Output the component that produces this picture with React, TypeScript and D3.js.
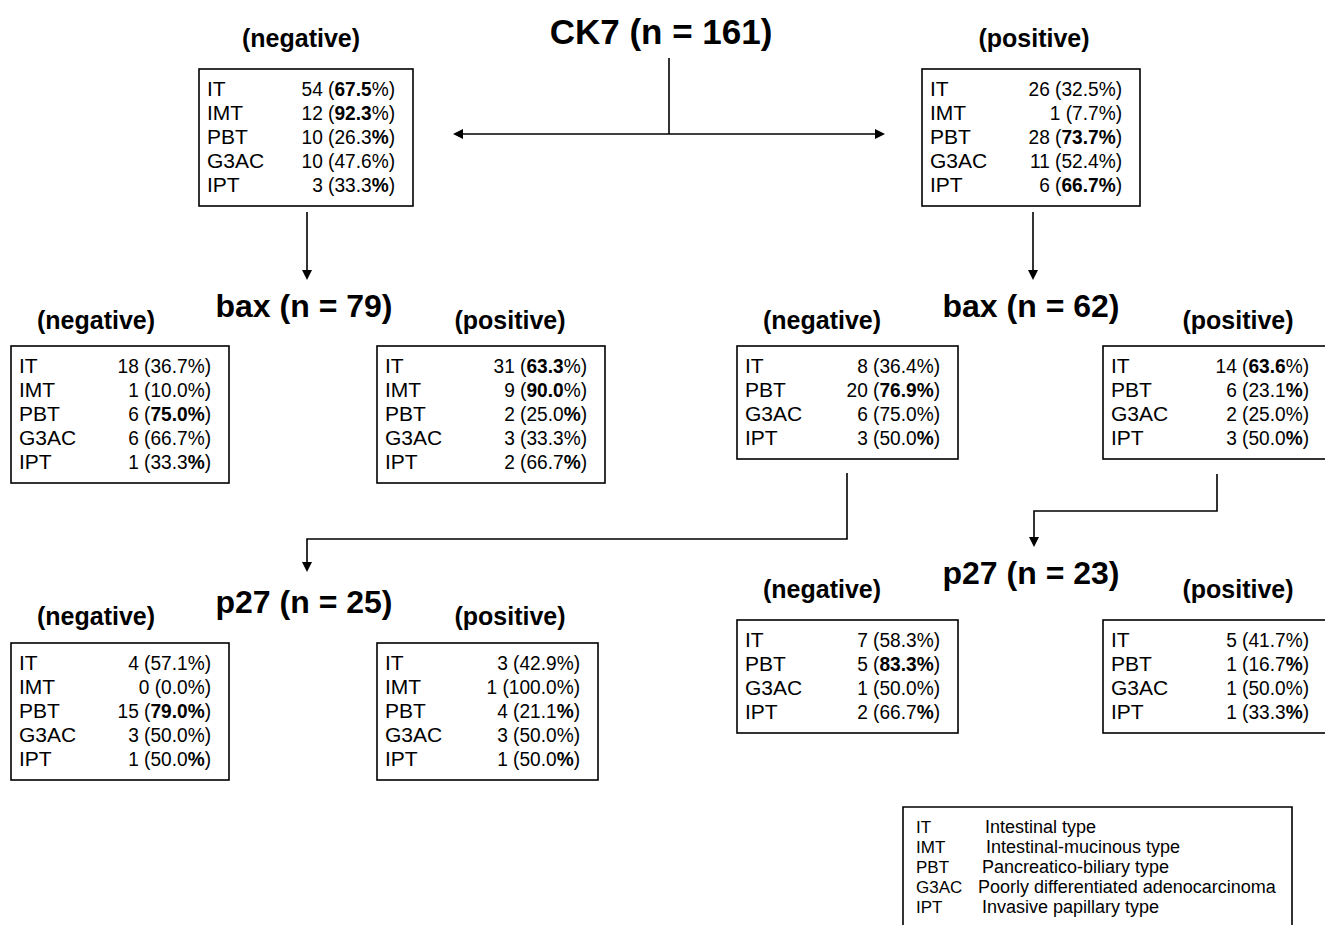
import * as d3 from "d3";

// row = [type, count, percent, bold]  bold: "v" value, "%" sign, "v%" both
type Row = [string, number, string, string];

const ck7Neg: Row[] = [["IT", 54, "67.5", "v"], ["IMT", 12, "92.3", "v"], ["PBT", 10, "26.3", "%"], ["G3AC", 10, "47.6", ""], ["IPT", 3, "33.3", "%"]];
const ck7Pos: Row[] = [["IT", 26, "32.5", ""], ["IMT", 1, "7.7", ""], ["PBT", 28, "73.7", "v%"], ["G3AC", 11, "52.4", ""], ["IPT", 6, "66.7", "v%"]];
const bax79Neg: Row[] = [["IT", 18, "36.7", ""], ["IMT", 1, "10.0", ""], ["PBT", 6, "75.0", "v%"], ["G3AC", 6, "66.7", ""], ["IPT", 1, "33.3", "%"]];
const bax79Pos: Row[] = [["IT", 31, "63.3", "v"], ["IMT", 9, "90.0", "v"], ["PBT", 2, "25.0", "%"], ["G3AC", 3, "33.3", ""], ["IPT", 2, "66.7", "%"]];
const bax62Neg: Row[] = [["IT", 8, "36.4", ""], ["PBT", 20, "76.9", "v%"], ["G3AC", 6, "75.0", ""], ["IPT", 3, "50.0", "%"]];
const bax62Pos: Row[] = [["IT", 14, "63.6", "v"], ["PBT", 6, "23.1", "%"], ["G3AC", 2, "25.0", ""], ["IPT", 3, "50.0", "%"]];
const p27aNeg: Row[] = [["IT", 4, "57.1", ""], ["IMT", 0, "0.0", ""], ["PBT", 15, "79.0", "v%"], ["G3AC", 3, "50.0", ""], ["IPT", 1, "50.0", "%"]];
const p27aPos: Row[] = [["IT", 3, "42.9", ""], ["IMT", 1, "100.0", ""], ["PBT", 4, "21.1", "%"], ["G3AC", 3, "50.0", ""], ["IPT", 1, "50.0", "%"]];
const p27bNeg: Row[] = [["IT", 7, "58.3", ""], ["PBT", 5, "83.3", "v%"], ["G3AC", 1, "50.0", ""], ["IPT", 2, "66.7", "%"]];
const p27bPos: Row[] = [["IT", 5, "41.7", ""], ["PBT", 1, "16.7", "%"], ["G3AC", 1, "50.0", ""], ["IPT", 1, "33.3", "%"]];

const markerTitles = ["CK7 (n = 161)", "bax (n = 79)", "bax (n = 62)", "p27 (n = 25)", "p27 (n = 23)"];
const legendAbbr = ["IT", "IMT", "PBT", "G3AC", "IPT"];
const legendText = ["Intestinal type", "Intestinal-mucinous type", "Pancreatico-biliary type", "Poorly differentiated adenocarcinoma", "Invasive papillary type"];

const FONT = "Liberation Sans, Arial, Helvetica, sans-serif";

const boxes = [
  { rows: ck7Neg, x: 199, y: 69, w: 214, head: "(negative)", hx: 301, hy: 47 },
  { rows: ck7Pos, x: 922, y: 69, w: 218, head: "(positive)", hx: 1034, hy: 47 },
  { rows: bax79Neg, x: 11, y: 346, w: 218, head: "(negative)", hx: 96, hy: 329 },
  { rows: bax79Pos, x: 377, y: 346, w: 228, head: "(positive)", hx: 510, hy: 329 },
  { rows: bax62Neg, x: 737, y: 346, w: 221, head: "(negative)", hx: 822, hy: 329 },
  { rows: bax62Pos, x: 1103, y: 346, w: 224, head: "(positive)", hx: 1238, hy: 329 },
  { rows: p27aNeg, x: 11, y: 643, w: 218, head: "(negative)", hx: 96, hy: 625 },
  { rows: p27aPos, x: 377, y: 643, w: 221, head: "(positive)", hx: 510, hy: 625 },
  { rows: p27bNeg, x: 737, y: 620, w: 221, head: "(negative)", hx: 822, hy: 598 },
  { rows: p27bPos, x: 1103, y: 620, w: 224, head: "(positive)", hx: 1238, hy: 598 },
];

const titlePos = [
  { x: 661, y: 44, size: 35 },
  { x: 304, y: 317, size: 32 },
  { x: 1031, y: 317, size: 32 },
  { x: 304, y: 613, size: 32 },
  { x: 1031, y: 584, size: 32 },
];

function Box({ b }: { b: (typeof boxes)[number] }) {
  const rowY = d3.scaleLinear().domain([0, 1]).range([b.y + 27, b.y + 51]);
  const h = b.rows.length * 24 + 17;
  const right = b.x + b.w - 18;
  return (
    <g>
      <text x={b.hx} y={b.hy} textAnchor="middle" fontSize={25} fontWeight="bold">{b.head}</text>
      <rect x={b.x} y={b.y} width={b.w} height={h} fill="none" stroke="#000" strokeWidth={1.6} />
      {b.rows.map((r, i) => (
        <g key={i}>
          <text x={b.x + 8} y={rowY(i)} fontSize={21}>{r[0]}</text>
          <text transform={`translate(${right},${rowY(i)}) scale(0.91,1)`} fontSize={21} textAnchor="end">
            {r[1] + " ("}
            <tspan fontWeight={r[3].includes("v") ? "bold" : "normal"}>{r[2]}</tspan>
            <tspan fontWeight={r[3].includes("%") ? "bold" : "normal"}>%</tspan>
            {")"}
          </text>
        </g>
      ))}
    </g>
  );
}

export default function App() {
  const p1 = d3.path();
  p1.moveTo(669, 58); p1.lineTo(669, 134);
  const p2 = d3.path();
  p2.moveTo(847, 473); p2.lineTo(847, 539); p2.lineTo(307, 539); p2.lineTo(307, 562);
  const p3 = d3.path();
  p3.moveTo(1217, 474); p3.lineTo(1217, 511); p3.lineTo(1034, 511); p3.lineTo(1034, 537);

  const arrows: [number, number, number, number][] = [
    [669, 134, 463, 134],
    [669, 134, 875, 134],
    [307, 212, 307, 270],
    [1033, 212, 1033, 270],
  ];
  const legendY = d3.scaleLinear().domain([0, 1]).range([833, 853]);
  const legendDx = [985, 986, 982, 978, 982];

  return (
    <svg width={1325} height={925} style={{ position: "absolute", left: 0, top: 0, background: "#fff" }} fontFamily={FONT}>
      <defs>
        <marker id="ah" viewBox="0 0 10 10" refX={0} refY={5} markerWidth={10} markerHeight={10} markerUnits="userSpaceOnUse" orient="auto">
          <path d="M0,0 L10,5 L0,10 z" fill="#000" />
        </marker>
      </defs>
      {titlePos.map((t, i) => (
        <text key={i} x={t.x} y={t.y} textAnchor="middle" fontSize={t.size} fontWeight="bold">{markerTitles[i]}</text>
      ))}
      <path d={p1.toString()} stroke="#000" strokeWidth={1.6} fill="none" />
      {arrows.map((a, i) => (
        <line key={i} x1={a[0]} y1={a[1]} x2={a[2]} y2={a[3]} stroke="#000" strokeWidth={1.6} markerEnd="url(#ah)" />
      ))}
      <path d={p2.toString()} stroke="#000" strokeWidth={1.6} fill="none" markerEnd="url(#ah)" />
      <path d={p3.toString()} stroke="#000" strokeWidth={1.6} fill="none" markerEnd="url(#ah)" />
      {boxes.map((b, i) => <Box key={i} b={b} />)}
      <path d="M903,930 V807 H1292 V930" stroke="#000" strokeWidth={1.6} fill="none" />
      {legendAbbr.map((a, i) => (
        <g key={i}>
          <text x={916} y={legendY(i)} fontSize={17}>{a}</text>
          <text x={legendDx[i]} y={legendY(i)} fontSize={18}>{legendText[i]}</text>
        </g>
      ))}
    </svg>
  );
}
